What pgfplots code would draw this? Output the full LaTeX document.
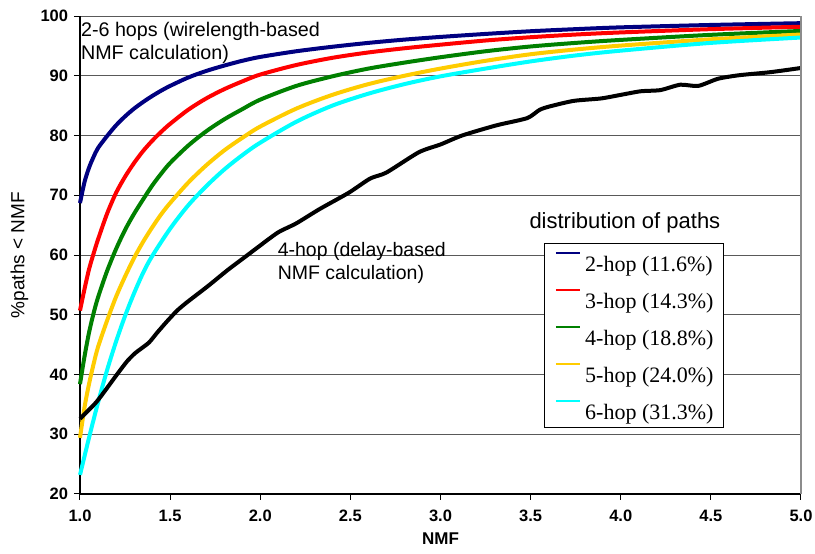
\documentclass[border=0pt]{standalone}
\usepackage{fontspec}
\setmainfont{Liberation Sans}
\newfontfamily\serif{Liberation Serif}
\usepackage{pgfplots}
\pgfplotsset{compat=1.18}
\definecolor{cnavy}{RGB}{0,0,128}
\definecolor{cred}{RGB}{255,0,0}
\definecolor{cgreen}{RGB}{0,128,0}
\definecolor{cyellow}{RGB}{255,204,0}
\definecolor{ccyan}{RGB}{0,255,255}
\begin{document}
\begin{tikzpicture}
\begin{axis}[
  scale only axis, width=721pt, height=478pt,
  xmin=1, xmax=5, ymin=20, ymax=100,
  xtick={1,1.5,...,5}, ytick={20,30,...,100},
  axis lines=left, axis line style={-, black, line width=1.5pt},
  tick align=outside, major tick length=6pt,
  tick style={black, line width=1pt},
  ymajorgrids, major grid style={black!65, line width=1pt},
  clip=false,
  /pgf/number format/assume math mode=true,
  ticklabel style={font=\bfseries\fontsize{16.5pt}{16.5pt}\selectfont, inner sep=0pt},
  xticklabel style={/pgf/number format/fixed, /pgf/number format/fixed zerofill, /pgf/number format/precision=1, anchor=north, yshift=-10pt},
  yticklabel style={anchor=east, xshift=-5.7pt},
  every axis x label/.style={at={(axis description cs:0.5,-0.0927)}, anchor=center, font=\bfseries\fontsize{17pt}{17pt}\selectfont},
  every axis y label/.style={at={(axis description cs:-0.0839,0.5)}, anchor=center, rotate=90, font=\fontsize{19pt}{19pt}\selectfont},
  xlabel={NMF}, ylabel={\%paths < NMF},
  legend cell align=left,
  legend image code/.code={\draw[#1, line width=2.5pt] (0pt,9pt) -- (24pt,9pt);},
  legend style={at={(0.644,0.5245)}, anchor=north west, draw=black, line width=0.8pt, fill=white,
    inner xsep=10pt, inner ysep=4.6pt, row sep=10pt, column sep=4pt,
    font=\serif\fontsize{22pt}{22pt}\selectfont,
    nodes={inner sep=0pt, text height=23pt, text depth=4pt}},
]
\addplot[cnavy, line width=4pt, smooth] coordinates {
(1.0,68.7) (1.025,72.2) (1.05,74.6) (1.075,76.4) (1.1,77.9) (1.15,79.9) (1.2,81.7) (1.25,83.2) (1.3,84.5) (1.35,85.6) (1.4,86.6) (1.45,87.5) (1.5,88.3) (1.6,89.7) (1.7,90.8) (1.8,91.7) (1.9,92.5) (2.0,93.15) (2.2,94.1) (2.4,94.85) (2.6,95.5) (2.8,96.05) (3.0,96.5) (3.25,97.0) (3.5,97.45) (3.75,97.8) (4.0,98.1) (4.5,98.5) (5.0,98.8)};
\addlegendentry{2-hop (11.6\%)}
\addplot[cred, line width=4pt, smooth] coordinates {
(1.0,50.7) (1.025,54.3) (1.05,57.6) (1.075,60.2) (1.1,62.6) (1.15,66.9) (1.2,70.4) (1.25,73.1) (1.3,75.4) (1.35,77.4) (1.4,79.1) (1.45,80.6) (1.5,81.95) (1.6,84.3) (1.7,86.2) (1.8,87.75) (1.9,89.05) (2.0,90.2) (2.2,91.8) (2.4,93.0) (2.6,93.9) (2.8,94.6) (3.0,95.2) (3.25,95.9) (3.5,96.45) (3.75,96.9) (4.0,97.25) (4.5,97.8) (5.0,98.2)};
\addlegendentry{3-hop (14.3\%)}
\addplot[cgreen, line width=4pt, smooth] coordinates {
(1.0,38.4) (1.025,43.0) (1.05,47.0) (1.075,50.2) (1.1,52.9) (1.15,57.3) (1.2,61.0) (1.25,64.2) (1.3,66.9) (1.35,69.3) (1.4,71.6) (1.45,73.6) (1.5,75.4) (1.6,78.3) (1.7,80.7) (1.8,82.7) (1.9,84.4) (2.0,86.0) (2.2,88.3) (2.4,89.9) (2.6,91.2) (2.8,92.2) (3.0,93.1) (3.25,94.1) (3.5,94.9) (3.75,95.5) (4.0,96.0) (4.5,96.85) (5.0,97.5)};
\addlegendentry{4-hop (18.8\%)}
\addplot[cyellow, line width=4pt, smooth] coordinates {
(1.0,29.4) (1.025,34.5) (1.05,38.4) (1.075,41.7) (1.1,44.6) (1.15,49.0) (1.2,53.0) (1.25,56.4) (1.3,59.5) (1.35,62.2) (1.4,64.6) (1.45,66.8) (1.5,68.7) (1.6,72.1) (1.7,75.0) (1.8,77.5) (1.9,79.6) (2.0,81.5) (2.2,84.5) (2.4,86.8) (2.6,88.6) (2.8,90.0) (3.0,91.2) (3.25,92.5) (3.5,93.6) (3.75,94.4) (4.0,95.05) (4.5,96.1) (5.0,96.9)};
\addlegendentry{5-hop (24.0\%)}
\addplot[ccyan, line width=4pt, smooth] coordinates {
(1.0,23.2) (1.05,29.4) (1.1,35.3) (1.15,40.7) (1.2,45.5) (1.25,49.8) (1.3,53.6) (1.35,57.0) (1.4,59.8) (1.5,64.4) (1.6,68.3) (1.7,71.5) (1.8,74.3) (1.9,76.7) (2.0,78.8) (2.2,82.3) (2.4,85.0) (2.6,87.0) (2.8,88.6) (3.0,89.9) (3.25,91.2) (3.5,92.4) (3.75,93.4) (4.0,94.2) (4.5,95.5) (5.0,96.4)};
\addlegendentry{6-hop (31.3\%)}
\addplot[black, line width=4pt, smooth, tension=0.4, forget plot] coordinates {
(1.0,32.6) (1.094,35.5) (1.205,40) (1.261,42.2) (1.307,43.6) (1.381,45.3) (1.428,47.0) (1.483,48.9) (1.539,50.7) (1.594,52.1) (1.71,54.8) (1.82,57.5) (1.93,60) (2.0,61.6) (2.1,63.8) (2.2,65.3) (2.33,67.7) (2.49,70.4) (2.61,72.8) (2.70,73.8) (2.88,77.2) (3.0,78.5) (3.12,80.0) (3.31,81.7) (3.48,82.9) (3.55,84.3) (3.61,84.9) (3.74,85.8) (3.89,86.2) (4.0,86.8) (4.11,87.4) (4.22,87.6) (4.33,88.5) (4.43,88.3) (4.54,89.5) (4.66,90.1) (4.83,90.6) (5.0,91.3)};
\draw[black!45, line width=2pt] (rel axis cs:1,0) -- (rel axis cs:1,1);
\node[anchor=base west, inner sep=0pt, font=\fontsize{19.7pt}{19.7pt}\selectfont] at (axis cs:1.005,96.65) {2-6 hops (wirelength-based};
\node[anchor=base west, inner sep=0pt, font=\fontsize{19.7pt}{19.7pt}\selectfont] at (axis cs:1.005,92.64) {NMF calculation)};
\node[anchor=base west, inner sep=0pt, font=\fontsize{19.5pt}{19.5pt}\selectfont] at (axis cs:2.096,59.72) {4-hop (delay-based};
\node[anchor=base west, inner sep=0pt, font=\fontsize{19.5pt}{19.5pt}\selectfont] at (axis cs:2.096,55.98) {NMF calculation)};
\node[anchor=base, inner sep=0pt, font=\fontsize{22pt}{22pt}\selectfont] at (axis cs:4.023,64.47) {distribution of paths};
\end{axis}
\pgfresetboundingbox
\path[use as bounding box] (-80pt,-60pt) rectangle (735pt,494pt);
\end{tikzpicture}
\end{document}
